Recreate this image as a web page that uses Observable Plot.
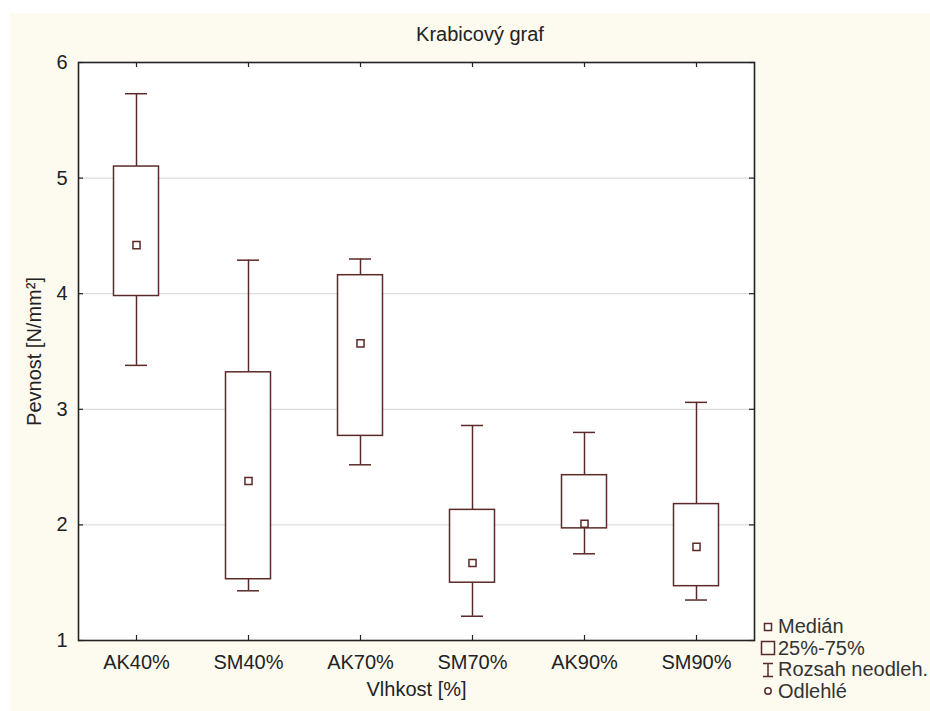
<!DOCTYPE html>
<html>
<head>
<meta charset="utf-8">
<script src="https://cdn.jsdelivr.net/npm/d3@7"></script>
<script src="https://cdn.jsdelivr.net/npm/@observablehq/plot@0.6"></script>
<style>
  html, body { margin: 0; padding: 0; background: #ffffff; }
  #wrap { position: relative; width: 930px; height: 711px; overflow: hidden; background: #ffffff; }
  #bg { position: absolute; left: 10px; top: 13px; right: 0; bottom: 0; background: #fdfaf0; }
  #chart { position: absolute; left: 0; top: 0; }
  #title { position: absolute; left: 380px; width: 200px; top: 23px; text-align: center;
           font: 20px "Liberation Sans", Arial, sans-serif; color: #222; }
  #legend { position: absolute; left: 760px; top: 616px; font: 20px "Liberation Sans", Arial, sans-serif; color: #333; }
  .item { display: flex; align-items: center; height: 21.5px; white-space: nowrap; }
  .item svg { width: 16px; height: 16px; margin-right: 2px; flex: none; }
</style>
</head>
<body>
<div id="wrap">
  <div id="bg"></div>
  <div id="chart"></div>
  <div id="title">Krabicový graf</div>
  <div id="legend"></div>
</div>
<script>
// ---- data ----
const categories = ["AK40%", "SM40%", "AK70%", "SM70%", "AK90%", "SM90%"];
const minimum = [3.38, 1.43, 2.52, 1.21, 1.75, 1.35];
const quartile1 = [3.98, 1.53, 2.77, 1.50, 1.97, 1.47];
const median = [4.42, 2.38, 3.57, 1.67, 2.01, 1.81];
const quartile3 = [5.10, 3.32, 4.16, 2.13, 2.43, 2.18];
const maximum = [5.73, 4.29, 4.30, 2.86, 2.80, 3.06];
const yTicks = [1, 2, 3, 4, 5, 6];
const gridValues = [2, 3, 4, 5];
const legendLabels = ["Medián", "25%-75%", "Rozsah neodleh.", "Odlehlé"];

const rows = categories.map((c, i) => ({
  cat: c, min: minimum[i], q1: quartile1[i], med: median[i], q3: quartile3[i], max: maximum[i]
}));

const boxColor = "#5a2a2a";
const font = "Liberation Sans, Arial, sans-serif";
const W = 930, H = 711, mT = 62, mL = 78, mR = 176, mB = 71;
const plotW = W - mL - mR, plotH = H - mT - mB, tickLen = 5;

const chart = Plot.plot({
  width: W,
  height: H,
  marginTop: mT,
  marginLeft: mL,
  marginRight: mR,
  marginBottom: mB,
  style: { background: "transparent", fontFamily: font, color: "#222" },
  x: { domain: categories, padding: 0, label: null },
  y: { domain: [1, 6], label: null },
  marks: [
    Plot.frame({ fill: "white", stroke: "none" }),
    Plot.gridY(gridValues, { stroke: "#d4d4d4", strokeOpacity: 1 }),
    Plot.ruleX(rows, { x: "cat", y1: "q3", y2: "max", stroke: boxColor, strokeWidth: 1.5 }),
    Plot.ruleX(rows, { x: "cat", y1: "min", y2: "q1", stroke: boxColor, strokeWidth: 1.5 }),
    Plot.tickY(rows, { x: "cat", y: "max", stroke: boxColor, strokeWidth: 1.5, insetLeft: 45, insetRight: 45 }),
    Plot.tickY(rows, { x: "cat", y: "min", stroke: boxColor, strokeWidth: 1.5, insetLeft: 45, insetRight: 45 }),
    Plot.barY(rows, { x: "cat", y1: "q1", y2: "q3", fill: "white", stroke: boxColor, strokeWidth: 1.5, insetLeft: 33.5, insetRight: 33.5 }),
    Plot.dot(rows, { x: "cat", y: "med", symbol: "square", r: 4, fill: "white", stroke: boxColor, strokeWidth: 1.5 }),
    // inward ticks
    Plot.tickX(categories, { x: d => d, stroke: "#222", strokeWidth: 1.2, insetTop: plotH - tickLen }),
    Plot.tickX(categories, { x: d => d, stroke: "#222", strokeWidth: 1.2, insetBottom: plotH - tickLen }),
    Plot.tickY(yTicks, { y: d => d, stroke: "#222", strokeWidth: 1.2, insetRight: plotW - tickLen }),
    Plot.tickY(yTicks, { y: d => d, stroke: "#222", strokeWidth: 1.2, insetLeft: plotW - tickLen }),
    Plot.frame({ stroke: "#222", strokeWidth: 1.6 }),
    // labels
    Plot.axisY(yTicks, { anchor: "left", tickSize: 0, tickPadding: 11, fontSize: 20, tickFormat: d3.format("d"),
      label: "Pevnost [N/mm²]", labelAnchor: "center", labelArrow: "none", labelOffset: 52 }),
    Plot.axisX({ anchor: "bottom", tickSize: 0, tickPadding: 14, fontSize: 20,
      label: "Vlhkost [%]", labelAnchor: "center", labelArrow: "none", labelOffset: 55 })
  ]
});
document.getElementById("chart").appendChild(chart);

// ---- legend ----
const icons = [
  `<svg viewBox="0 0 16 16"><rect x="4.5" y="4.5" width="7" height="7" fill="white" stroke="${boxColor}" stroke-width="1.5"/></svg>`,
  `<svg viewBox="0 0 16 16"><rect x="1.5" y="1.5" width="13" height="13" fill="none" stroke="${boxColor}" stroke-width="1.5"/></svg>`,
  `<svg viewBox="0 0 16 16"><path d="M3,1.5H13M8,1.5V14.5M3,14.5H13" fill="none" stroke="${boxColor}" stroke-width="1.5"/></svg>`,
  `<svg viewBox="0 0 16 16"><circle cx="8" cy="8" r="3.2" fill="white" stroke="${boxColor}" stroke-width="1.5"/></svg>`
];
const legend = document.getElementById("legend");
legendLabels.forEach((t, i) => {
  const d = document.createElement("div");
  d.className = "item";
  d.innerHTML = icons[i];
  const s = document.createElement("span");
  s.textContent = t;
  d.appendChild(s);
  legend.appendChild(d);
});
</script>
</body>
</html>
